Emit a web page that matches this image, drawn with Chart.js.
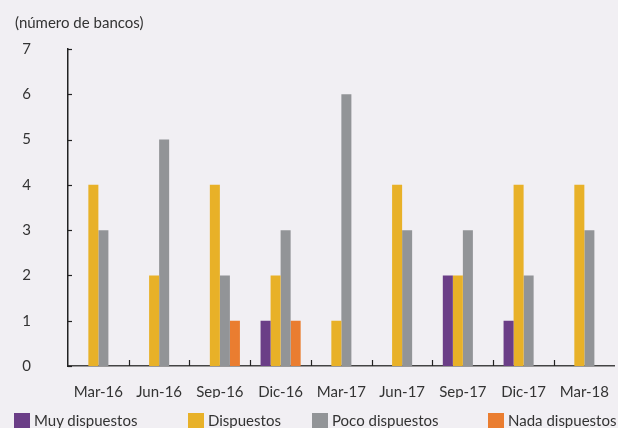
<!DOCTYPE html>
<html>
<head>
<meta charset="utf-8">
<script src="https://cdn.jsdelivr.net/npm/chart.js@4"></script>
<style>
  html, body { margin: 0; padding: 0; background: #f1eff3; }
  #wrap { position: relative; width: 618px; height: 428px; overflow: hidden; font-family: Lato, sans-serif; color: #333; }
  #titulo { position: absolute; left: 15px; top: 13px; font-size: 15px; }
  .ley { position: absolute; top: 410px; font-size: 15px; white-space: nowrap; line-height: 20px; }
  .ley span { display: inline-block; width: 16px; height: 17px; vertical-align: -4px; margin-right: 4px; }
  canvas { position: absolute; left: 0; top: 0; }
</style>
</head>
<body>
<div id="wrap">
  <canvas id="myChart" width="618" height="428"></canvas>
  <div id="titulo">(número de bancos)</div>
  <div id="leyenda"></div>
</div>
<script>
// Datos del gráfico
const categorias = ['Mar-16', 'Jun-16', 'Sep-16', 'Dic-16', 'Mar-17', 'Jun-17', 'Sep-17', 'Dic-17', 'Mar-18'];
const muyDispuestos = [0, 0, 0, 1, 0, 0, 2, 1, 0];
const dispuestos = [4, 2, 4, 2, 1, 4, 2, 4, 4];
const pocoDispuestos = [3, 5, 2, 3, 6, 3, 3, 2, 3];
const nadaDispuestos = [0, 0, 1, 1, 0, 0, 0, 0, 0];
const ticksY = [0, 1, 2, 3, 4, 5, 6, 7];

const series = [
    { label: 'Muy dispuestos', data: muyDispuestos, color: '#6b3e87', x: 14 },
    { label: 'Dispuestos', data: dispuestos, color: '#e8b128', x: 188 },
    { label: 'Poco dispuestos', data: pocoDispuestos, color: '#929497', x: 312 },
    { label: 'Nada dispuestos', data: nadaDispuestos, color: '#ea7d30', x: 488 }
];

// Leyenda en HTML con posiciones como en el original
const leyenda = document.getElementById('leyenda');
series.forEach(s => {
    const d = document.createElement('div');
    d.className = 'ley';
    d.style.left = s.x + 'px';
    d.innerHTML = '<span style="background:' + s.color + '"></span>' + s.label;
    leyenda.appendChild(d);
});

// Marcas de los ejes hacia dentro
const marcas = {
    id: 'marcas',
    afterDraw(chart) {
        const c = chart.ctx;
        const x = chart.scales.x, y = chart.scales.y;
        const area = chart.chartArea;
        c.save();
        c.lineWidth = 1.2;
        c.strokeStyle = '#222';
        ticksY.forEach(v => {
            const py = Math.round(y.getPixelForValue(v)) + 0.5;
            c.beginPath();
            c.moveTo(area.left, py);
            c.lineTo(area.left + 4, py);
            c.stroke();
        });
        for (let i = 1; i < categorias.length; i++) {
            const px = Math.round((x.getPixelForValue(i - 1) + x.getPixelForValue(i)) / 2) + 0.5;
            c.beginPath();
            c.moveTo(px, area.bottom);
            c.lineTo(px, area.bottom - 6);
            c.stroke();
        }
        c.restore();
    }
};

const ctx = document.getElementById('myChart').getContext('2d');
new Chart(ctx, {
    type: 'bar',
    data: {
        labels: categorias,
        datasets: series.map(s => ({
            label: s.label,
            data: s.data,
            backgroundColor: s.color,
            borderWidth: 0
        }))
    },
    options: {
        responsive: false,
        animation: false,
        datasets: {
            bar: { categoryPercentage: 0.66, barPercentage: 1.0 }
        },
        layout: { padding: { top: 49, left: 0, right: 0, bottom: 30 } },
        plugins: {
            legend: { display: false },
            tooltip: { enabled: false }
        },
        scales: {
            x: {
                grid: { display: false },
                border: { color: '#444', width: 1.5 },
                ticks: { color: '#333', font: { family: 'Lato', size: 15 }, padding: 9, maxRotation: 0 },
                afterFit: s => { s.height = 32; }
            },
            y: {
                min: 0,
                max: 7,
                grid: { display: false },
                border: { color: '#222', width: 1.5 },
                ticks: { stepSize: 1, color: '#333', font: { family: 'Lato', size: 15 }, padding: 29 },
                afterFit: s => { s.width = 68; }
            }
        }
    },
    plugins: [marcas]
});
</script>
</body>
</html>
